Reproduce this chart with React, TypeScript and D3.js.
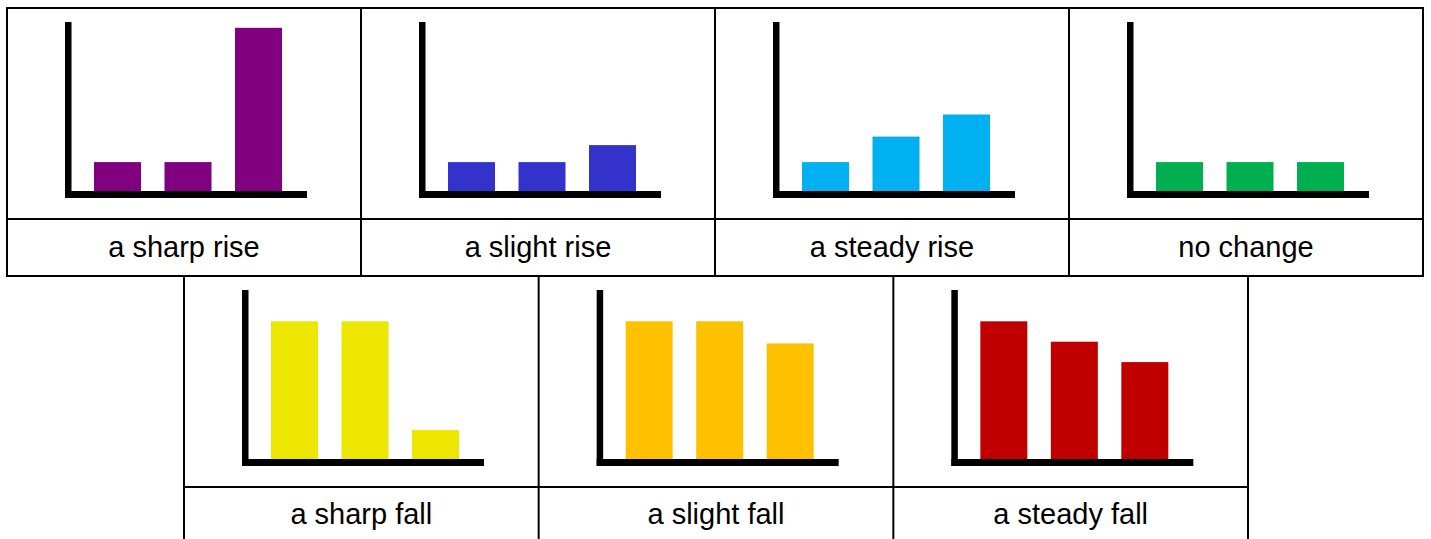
import * as d3 from "d3";

const labels = [
  "a sharp rise",
  "a slight rise",
  "a steady rise",
  "no change",
  "a sharp fall",
  "a slight fall",
  "a steady fall",
];
const colors = [
  "#800080",
  "#3333cc",
  "#00b0f0",
  "#00b050",
  "#ede600",
  "#ffc000",
  "#c00000",
];
const sharpRise = [17, 17, 96];
const slightRise = [17, 17, 27];
const steadyRise = [17, 32, 45];
const noChange = [17, 17, 17];
const sharpFall = [81, 81, 17];
const slightFall = [81, 81, 68];
const steadyFall = [81, 69, 57];
const series = [sharpRise, slightRise, steadyRise, noChange, sharpFall, slightFall, steadyFall];

const W = 1431;
const H = 539;
const imgH = 211;

// cell frames: top row of 4, bottom row of 3
const topRow = { x0: 7, x1: 1423, y0: 8, mid: 219, y1: 276 };
const botRow = { x0: 184, x1: 1248, y0: 276, mid: 487, y1: 541 };

const x = d3.scaleBand<number>().domain([0, 1, 2]).range([75.25, 286.75]).paddingInner(1 / 3).paddingOuter(1 / 6);
const y = d3.scaleLinear().domain([0, 100]).range([183, 13]);

function Panel({ i, left, top, w }: { i: number; left: number; top: number; w: number }) {
  const vals = series[i];
  return (
    <g transform={`translate(${left},${top})`}>
      {vals.map((v, j) => (
        <rect key={j} x={x(j)} y={y(v)} width={x.bandwidth()} height={y(0) - y(v)} fill={colors[i]} />
      ))}
      <rect x={58} y={14} width={6.5} height={176} fill="#000" />
      <rect x={58} y={y(0)} width={242} height={7} fill="#000" />
      <text
        x={w / 2}
        y={imgH + (i < 4 ? 28 : 27)}
        textAnchor="middle"
        dominantBaseline="central"
        fontFamily="'Liberation Sans', Arial, sans-serif"
        fontSize={29}
        fill="#000"
      >
        {labels[i]}
      </text>
    </g>
  );
}

function Row({ row, start, n }: { row: typeof topRow; start: number; n: number }) {
  const w = (row.x1 - row.x0) / n;
  const cols = d3.range(n);
  return (
    <g>
      {cols.map((c) => (
        <Panel key={c} i={start + c} left={row.x0 + c * w} top={row.y0} w={w} />
      ))}
      <rect x={row.x0} y={row.y0} width={row.x1 - row.x0} height={row.y1 - row.y0} fill="none" stroke="#000" strokeWidth={2} />
      <line x1={row.x0} x2={row.x1} y1={row.mid} y2={row.mid} stroke="#000" strokeWidth={2} />
      {d3.range(1, n).map((c) => (
        <line key={c} x1={row.x0 + c * w} x2={row.x0 + c * w} y1={row.y0} y2={row.y1} stroke="#000" strokeWidth={2} />
      ))}
    </g>
  );
}

export default function App() {
  return (
    <svg width={W} height={H} style={{ position: "absolute", left: 0, top: 0, background: "#fff" }}>
      <rect width={W} height={H} fill="#fff" />
      <Row row={topRow} start={0} n={4} />
      <Row row={botRow} start={4} n={3} />
    </svg>
  );
}
